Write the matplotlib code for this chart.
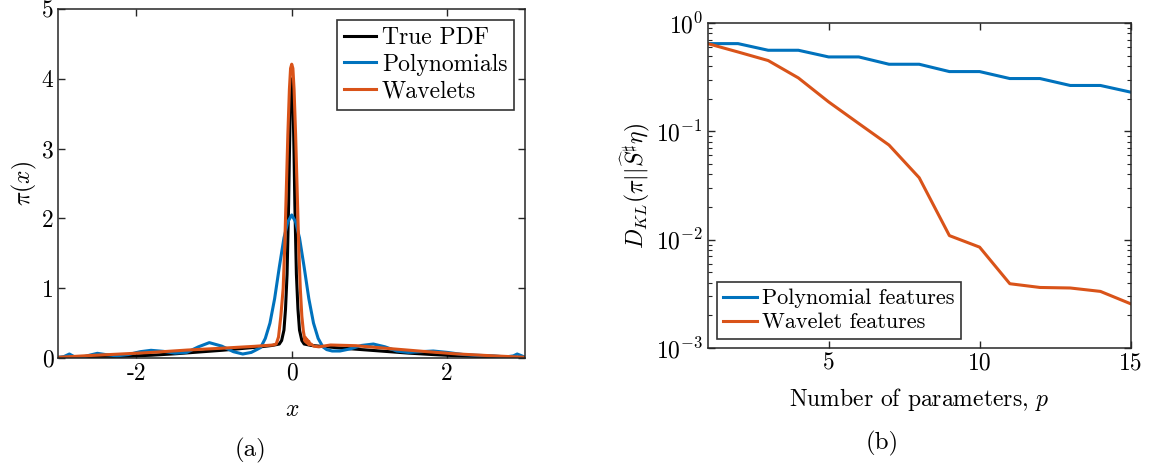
import matplotlib
matplotlib.use("Agg")
import matplotlib.pyplot as plt
from matplotlib.ticker import LogLocator, NullFormatter

# --- fonts: LaTeX look ---
plt.rcParams["font.family"] = "cmr10"
plt.rcParams["mathtext.fontset"] = "cm"
plt.rcParams["axes.formatter.use_mathtext"] = True
plt.rcParams["font.size"] = 17

BLUE = "#0072BD"
ORANGE = "#D95319"
AXC = "#262626"

# --- (a) densities ---
x_true = [-3.0, -2.7, -2.4, -2.1, -1.8, -1.5, -1.2, -0.9, -0.6, -0.4, -0.25,
          -0.16, -0.13, -0.1, -0.08, -0.06, -0.04, -0.03, -0.02, -0.01, 0.0,
          0.01, 0.02, 0.03, 0.04, 0.06, 0.08, 0.1, 0.13, 0.16, 0.25, 0.4,
          0.6, 0.9, 1.2, 1.5, 1.8, 2.1, 2.4, 2.7, 3.0]
y_true = [0.005, 0.01, 0.017, 0.026, 0.04, 0.06, 0.085, 0.11, 0.14, 0.16, 0.18,
          0.2, 0.25, 0.4, 0.7, 1.2, 2.2, 2.9, 3.5, 3.9, 4.0,
          3.9, 3.5, 2.9, 2.2, 1.2, 0.7, 0.4, 0.25, 0.2, 0.18, 0.165,
          0.145, 0.12, 0.095, 0.07, 0.05, 0.033, 0.02, 0.01, 0.005]

x_wav = [-3.0, -2.6, -2.2, -1.8, -1.34, -0.9, -0.48, -0.24, -0.2, -0.17,
         -0.14, -0.11, -0.09, -0.07, -0.05, -0.03, -0.015, 0.0, 0.015, 0.03,
         0.05, 0.07, 0.09, 0.11, 0.13, 0.15, 0.16, 0.17, 0.18, 0.19, 0.2,
         0.21, 0.22, 0.23, 0.25, 0.28, 0.35, 0.5, 0.83, 1.2, 1.69, 2.1,
         2.55, 3.0]
y_wav = [0.01, 0.035, 0.057, 0.08, 0.114, 0.14, 0.167, 0.186, 0.2, 0.3,
         0.6, 1.0, 1.6, 2.4, 3.2, 3.85, 4.15, 4.21, 4.15, 3.85,
         3.2, 2.4, 1.6, 1.0, 0.6, 0.38, 0.32, 0.24, 0.29, 0.22, 0.26,
         0.2, 0.24, 0.19, 0.2, 0.17, 0.16, 0.186, 0.176, 0.14, 0.095, 0.06,
         0.033, 0.01]

x_poly = [-3.0, -2.93, -2.86, -2.8, -2.7, -2.6, -2.5, -2.4, -2.25, -2.1,
          -1.95, -1.81, -1.65, -1.5, -1.35, -1.2, -1.06, -0.9, -0.75, -0.63,
          -0.52, -0.45, -0.4, -0.34, -0.28, -0.22, -0.16, -0.1, -0.05, 0.0,
          0.05, 0.1, 0.16, 0.22, 0.28, 0.34, 0.4, 0.45, 0.52, 0.62, 0.75,
          0.9, 1.05, 1.2, 1.35, 1.5, 1.65, 1.82, 2.0, 2.2, 2.35, 2.47, 2.6,
          2.75, 2.85, 2.9, 2.96, 3.0]
y_poly = [0.01, 0.02, 0.057, 0.02, 0.01, 0.04, 0.067, 0.05, 0.03, 0.05,
          0.09, 0.11, 0.095, 0.07, 0.08, 0.16, 0.22, 0.17, 0.09, 0.057,
          0.08, 0.12, 0.15, 0.28, 0.5, 0.85, 1.3, 1.72, 1.95, 2.05,
          1.95, 1.72, 1.3, 0.85, 0.5, 0.28, 0.16, 0.12, 0.1, 0.1, 0.13,
          0.18, 0.2, 0.16, 0.1, 0.08, 0.09, 0.1, 0.08, 0.05, 0.04, 0.035, 0.03,
          0.015, 0.03, 0.057, 0.03, 0.01]

# --- (b) KL divergence vs number of parameters ---
p_vals = list(range(1, 16))
kl_poly = [0.645, 0.645, 0.56, 0.56, 0.486, 0.486, 0.416, 0.416, 0.356,
           0.356, 0.307, 0.307, 0.265, 0.265, 0.23]
kl_wav = [0.645, 0.54, 0.45, 0.311, 0.187, 0.118, 0.0747, 0.0373, 0.0109,
          0.00853, 0.00392, 0.00362, 0.00358, 0.00333, 0.00256]

fig = plt.figure(figsize=(11.49, 4.69), dpi=100)
ax1 = fig.add_axes([0.0509, 0.2367, 0.406, 0.744])
ax2 = fig.add_axes([0.616, 0.258, 0.368, 0.693])


def style_axes(ax):
    for s in ax.spines.values():
        s.set_color(AXC)
        s.set_linewidth(1.1)
    ax.tick_params(which="both", direction="in", top=True, right=True,
                   colors=AXC, labelcolor="black", labelsize=17)
    ax.tick_params(which="major", length=5, width=1.0)
    ax.tick_params(which="minor", length=3, width=0.8)


lw = 2.2
ax1.plot(x_true, y_true, color="black", lw=lw, label="True PDF")
ax1.plot(x_poly, y_poly, color=BLUE, lw=lw, label="Polynomials")
ax1.plot(x_wav, y_wav, color=ORANGE, lw=lw, label="Wavelets")
ax1.set_xlim(-3, 3)
ax1.set_ylim(0, 5)
ax1.set_xticks([-2, 0, 2])
ax1.set_xticklabels(["-2", "0", "2"])
ax1.set_yticks([0, 1, 2, 3, 4, 5])
ax1.set_yticklabels(["0", "1", "2", "3", "4", "5"])
ax1.set_xlabel(r"$x$", labelpad=10)
ax1.set_ylabel(r"$\pi(x)$", labelpad=2)
style_axes(ax1)
leg1 = ax1.legend(loc="upper right", fancybox=False, edgecolor="black",
                  handlelength=1.35, handletextpad=0.25, borderpad=0.3,
                  labelspacing=0.2, borderaxespad=0.45, fontsize=17)
leg1.get_frame().set_linewidth(1.2)

ax2.semilogy(p_vals, kl_poly, color=BLUE, lw=lw, label="Polynomial features")
ax2.semilogy(p_vals, kl_wav, color=ORANGE, lw=lw, label="Wavelet features")
ax2.set_xlim(1, 15)
ax2.set_ylim(1e-3, 1)
ax2.set_xticks([5, 10, 15])
ax2.set_xticklabels(["5", "10", "15"])
ax2.yaxis.set_major_locator(LogLocator(base=10, numticks=10))
ax2.yaxis.set_minor_locator(LogLocator(base=10, subs=range(2, 10), numticks=10))
ax2.yaxis.set_minor_formatter(NullFormatter())
ax2.set_xlabel("Number of parameters, $p$", labelpad=8)
ax2.set_ylabel(r"$D_{KL}(\pi||\widehat{S}^{\sharp}\eta)$", labelpad=2)
style_axes(ax2)
leg2 = ax2.legend(loc="lower left", fancybox=False, edgecolor="black",
                  handlelength=1.5, handletextpad=0.25, borderpad=0.3,
                  labelspacing=0.2, borderaxespad=0.4, fontsize=16)
leg2.get_frame().set_linewidth(1.2)

fig.text(0.218, 0.04, "(a)", ha="center", va="center", fontsize=18)
fig.text(0.768, 0.055, "(b)", ha="center", va="center", fontsize=18)

fig.savefig("out.png", dpi=100)
